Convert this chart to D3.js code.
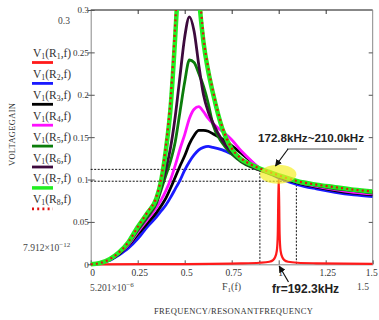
<!DOCTYPE html>
<html>
<head>
<meta charset="utf-8">
<script src="https://cdn.jsdelivr.net/npm/d3@7"></script>
<style>
  html, body { margin: 0; padding: 0; background: #fff; }
  svg { display: block; }
</style>
</head>
<body>
<svg id="chart" width="379" height="320"></svg>
<script>
// ---- data ----
const freq = [0, 0.05, 0.1, 0.15, 0.2, 0.25, 0.3, 0.35, 0.375, 0.4, 0.425, 0.45, 0.475, 0.5, 0.525, 0.55, 0.575, 0.6, 0.625, 0.65, 0.7, 0.75, 0.8, 0.85, 0.9, 0.95, 1.0, 1.1, 1.2, 1.3, 1.4, 1.5];
const gainR2 = [0, 0.0012, 0.0045, 0.011, 0.019, 0.03, 0.044, 0.056, 0.063, 0.07, 0.079, 0.089, 0.099, 0.111, 0.121, 0.129, 0.135, 0.138, 0.139, 0.138, 0.135, 0.13, 0.124, 0.118, 0.113, 0.107, 0.102, 0.094, 0.089, 0.085, 0.082, 0.08];
const gainR3 = [0, 0.0013, 0.005, 0.012, 0.022, 0.035, 0.048, 0.061, 0.069, 0.078, 0.09, 0.103, 0.116, 0.128, 0.142, 0.152, 0.158, 0.158, 0.157, 0.154, 0.148, 0.14, 0.131, 0.122, 0.113, 0.108, 0.103, 0.096, 0.091, 0.087, 0.084, 0.082];
const gainR4 = [0, 0.0014, 0.0055, 0.013, 0.023, 0.038, 0.052, 0.067, 0.076, 0.087, 0.1, 0.117, 0.136, 0.153, 0.172, 0.183, 0.186, 0.18, 0.172, 0.166, 0.157, 0.147, 0.134, 0.123, 0.113, 0.108, 0.104, 0.097, 0.092, 0.088, 0.085, 0.083];
const gainR5 = [0, 0.0015, 0.0058, 0.0135, 0.024, 0.04, 0.055, 0.072, 0.088, 0.105, 0.122, 0.145, 0.18, 0.215, 0.241, 0.238, 0.225, 0.21, 0.19, 0.165, 0.143, 0.13, 0.121, 0.115, 0.111, 0.107, 0.104, 0.097, 0.093, 0.089, 0.087, 0.084];
const gainR6 = [0, 0.0015, 0.006, 0.014, 0.025, 0.042, 0.057, 0.074, 0.092, 0.112, 0.138, 0.175, 0.222, 0.268, 0.292, 0.275, 0.235, 0.2, 0.18, 0.167, 0.146, 0.132, 0.122, 0.116, 0.111, 0.108, 0.104, 0.098, 0.093, 0.09, 0.087, 0.085];
const gainR7 = [0, 0.0015, 0.006, 0.014, 0.026, 0.044, 0.06, 0.078, 0.099, 0.135, 0.185, 0.27, 0.37, 0.45, 0.48, 0.44, 0.32, 0.262, 0.228, 0.202, 0.16, 0.136, 0.124, 0.118, 0.113, 0.109, 0.105, 0.098, 0.094, 0.091, 0.088, 0.086];
const gainR8 = [0, 0.0015, 0.006, 0.014, 0.026, 0.044, 0.061, 0.08, 0.102, 0.14, 0.195, 0.285, 0.39, 0.47, 0.5, 0.46, 0.34, 0.268, 0.232, 0.205, 0.162, 0.137, 0.125, 0.118, 0.113, 0.109, 0.105, 0.098, 0.094, 0.091, 0.088, 0.086];
const freqR1 = [0, 0.5, 0.8, 0.9, 0.95, 0.97, 0.98, 0.99, 0.995, 1.0, 1.005, 1.01, 1.02, 1.03, 1.05, 1.1, 1.2, 1.5];
const gainR1 = [0, 0.0003, 0.001, 0.0018, 0.003, 0.005, 0.008, 0.016, 0.035, 0.105, 0.035, 0.016, 0.008, 0.005, 0.003, 0.0018, 0.0012, 0.0006];

const legendNames = ["1", "2", "3", "4", "5", "6", "7", "8"];
const xTicks = [0, 0.25, 0.5, 0.75, 1, 1.25, 1.5];
const xTickLabels = ["0", "0.25", "0.5", "0.75", "1", "1.25", "1.5"];
const yTicks = [0, 0.05, 0.1, 0.15, 0.2, 0.25, 0.3];
const yTickLabels = ["0", "0.05", "0.1", "0.15", "0.2", "0.25", "0.3"];
const bandFreq = [0.9, 1.094];      // 172.8 kHz and 210.0 kHz relative to fr
const bandGain = [0.112, 0.098];
const resonance = { f: 1.0, g: 0.105 };

// ---- styles ----
const styles = [
  { color: "#ff1a1a", width: 2.2, dash: null },
  { color: "#1a1aff", width: 2.8, dash: null },
  { color: "#000000", width: 2.8, dash: null },
  { color: "#ff10ff", width: 2.8, dash: null },
  { color: "#0b7d0b", width: 2.8, dash: null },
  { color: "#3d0a3d", width: 2.8, dash: null },
  { color: "#22ee22", width: 4.5, dash: null },
  { color: "#e01010", width: 2.2, dash: "2,3.2" }
];

const svg = d3.select("#chart");
const x = d3.scaleLinear().domain([0, 1.5]).range([90.7, 372.7]);
const y = d3.scaleLinear().domain([0, 0.3]).range([264.3, 10]);

const serif = "'Liberation Serif', 'Times New Roman', serif";
const sans = "'Liberation Sans', Arial, sans-serif";

const defs = svg.append("defs");
defs.append("clipPath").attr("id", "plotclip")
  .append("rect").attr("x", x(0)).attr("y", y(0.3))
  .attr("width", x(1.5) - x(0)).attr("height", y(0) - y(0.3) + 3);
defs.append("marker").attr("id", "arrow").attr("viewBox", "0 0 10 10")
  .attr("refX", 9).attr("refY", 5).attr("markerWidth", 7).attr("markerHeight", 7)
  .attr("markerUnits", "userSpaceOnUse").attr("orient", "auto")
  .append("path").attr("d", "M0,0 L10,5 L0,10 z").attr("fill", "#111");

// frame
svg.append("line").attr("x1", x(0)).attr("x2", x(1.5)).attr("y1", y(0.3)).attr("y2", y(0.3))
  .attr("stroke", "#111").attr("stroke-width", 1);
svg.append("line").attr("x1", x(1.5)).attr("x2", x(1.5)).attr("y1", y(0.3)).attr("y2", y(0))
  .attr("stroke", "#888").attr("stroke-width", 1);

// axes
const axL = svg.append("g").attr("transform", `translate(${x(0)},0)`)
  .call(d3.axisLeft(y).tickValues(yTicks).tickSizeInner(-4).tickSizeOuter(0).tickPadding(2)
    .tickFormat((d, i) => yTickLabels[i]));
axL.select(".domain").attr("stroke", "#888");
axL.selectAll(".tick line").attr("stroke", "#555").attr("x1", -3);
axL.selectAll(".tick text").attr("font-family", serif).attr("font-size", 9).attr("fill", "#333");

const axB = svg.append("g").attr("transform", `translate(0,${y(0)})`)
  .call(d3.axisBottom(x).tickValues(xTicks).tickSizeInner(-4).tickSizeOuter(0).tickPadding(5)
    .tickFormat((d, i) => xTickLabels[i]));
axB.select(".domain").attr("stroke", "#888");
axB.selectAll(".tick line").attr("stroke", "#555");
axB.selectAll(".tick text").attr("font-family", serif).attr("font-size", 9.5).attr("fill", "#333")
  .attr("dx", (d, i) => i === xTicks.length - 1 ? -1.5 : 1.5);

const axT = svg.append("g").attr("transform", `translate(0,${y(0.3)})`)
  .call(d3.axisTop(x).tickValues(xTicks.slice(1, -1)).tickSizeInner(-4).tickSizeOuter(0).tickFormat(""));
axT.select(".domain").remove();
axT.selectAll(".tick line").attr("stroke", "#333");

const axR = svg.append("g").attr("transform", `translate(${x(1.5)},0)`)
  .call(d3.axisRight(y).tickValues(yTicks.slice(1, -1)).tickSizeInner(-4).tickSizeOuter(0).tickFormat(""));
axR.select(".domain").remove();
axR.selectAll(".tick line").attr("stroke", "#555");

// dotted guide lines
const guide = svg.append("g").attr("stroke", "#111").attr("stroke-width", 1).attr("stroke-dasharray", "2,1.5");
guide.append("line").attr("x1", x(0)).attr("x2", x(bandFreq[0])).attr("y1", y(bandGain[0])).attr("y2", y(bandGain[0]));
guide.append("line").attr("x1", x(0)).attr("x2", x(bandFreq[1])).attr("y1", y(bandGain[1])).attr("y2", y(bandGain[1]));
guide.append("line").attr("x1", x(bandFreq[0])).attr("x2", x(bandFreq[0])).attr("y1", y(bandGain[0])).attr("y2", y(0));
guide.append("line").attr("x1", x(bandFreq[1])).attr("x2", x(bandFreq[1])).attr("y1", y(bandGain[1])).attr("y2", y(0));

// curves
const series = [
  { f: freqR1, g: gainR1 },
  { f: freq, g: gainR2 },
  { f: freq, g: gainR3 },
  { f: freq, g: gainR4 },
  { f: freq, g: gainR5 },
  { f: freq, g: gainR6 },
  { f: freq, g: gainR7 },
  { f: freq, g: gainR8 }
];
const line = d3.line().x(d => x(d[0])).y(d => y(d[1])).curve(d3.curveMonotoneX);
const plot = svg.append("g").attr("clip-path", "url(#plotclip)");
series.forEach((s, i) => {
  const pts = s.f.map((f, j) => [f, s.g[j]]);
  plot.append("path").attr("d", line(pts)).attr("fill", "none")
    .attr("stroke", styles[i].color).attr("stroke-width", styles[i].width)
    .attr("stroke-dasharray", styles[i].dash).attr("stroke-linejoin", "round");
});

// highlight ellipse
svg.append("ellipse").attr("cx", x((bandFreq[0] + bandFreq[1]) / 2)).attr("cy", y(resonance.g) - 1)
  .attr("rx", (x(bandFreq[1]) - x(bandFreq[0])) / 2).attr("ry", 9.5)
  .attr("fill", "rgb(245,240,40)").attr("fill-opacity", 0.7);

// annotations
svg.append("text").attr("x", 258).attr("y", 142).attr("font-family", sans).attr("font-weight", "bold")
  .attr("font-size", 11.6).attr("fill", "#222").text("172.8kHz~210.0kHz");
svg.append("line").attr("x1", 287).attr("x2", 357).attr("y1", 149).attr("y2", 149)
  .attr("stroke", "#222").attr("stroke-width", 0.8);
svg.append("line").attr("x1", 288).attr("y1", 149).attr("x2", 275.5).attr("y2", 166)
  .attr("stroke", "#111").attr("stroke-width", 1.2).attr("marker-end", "url(#arrow)");

svg.append("text").attr("x", 272).attr("y", 293).attr("font-family", sans).attr("font-weight", "bold")
  .attr("font-size", 12).attr("fill", "#222").text("fr=192.3kHz");
svg.append("line").attr("x1", 288.5).attr("y1", 282).attr("x2", x(resonance.f) + 0.5).attr("y2", 266)
  .attr("stroke", "#111").attr("stroke-width", 1.2).attr("marker-end", "url(#arrow)");

// legend
const leg = svg.append("g");
legendNames.forEach((n, i) => {
  const ty = 57 + i * 20.9;
  const t = leg.append("text").attr("x", 33).attr("y", ty).attr("font-family", serif)
    .attr("font-size", 11.5).attr("fill", "#333");
  t.append("tspan").text("V");
  t.append("tspan").attr("font-size", 7.8).attr("dy", 2).text("1");
  t.append("tspan").attr("dy", -2).text("(R");
  t.append("tspan").attr("font-size", 7.8).attr("dy", 2).text(n);
  t.append("tspan").attr("dy", -2).text(",f)");
  leg.append("line").attr("x1", 32).attr("x2", 53).attr("y1", ty + 5.5).attr("y2", ty + 5.5)
    .attr("stroke", styles[i].color).attr("stroke-width", i === 6 ? 3.5 : 2.8)
    .attr("stroke-dasharray", styles[i].dash);
});

// mathcad limit labels
svg.append("text").attr("x", 58).attr("y", 24).attr("font-family", serif).attr("font-size", 9.5)
  .attr("fill", "#444").text("0.3");
const lim1 = svg.append("text").attr("x", 23).attr("y", 251).attr("font-family", serif)
  .attr("font-size", 9.5).attr("fill", "#444");
lim1.append("tspan").text("7.912×10");
lim1.append("tspan").attr("font-size", 7).attr("dy", -4).text("−12");
const lim2 = svg.append("text").attr("x", 90).attr("y", 291).attr("font-family", serif)
  .attr("font-size", 9.5).attr("fill", "#444");
lim2.append("tspan").text("5.201×10");
lim2.append("tspan").attr("font-size", 7).attr("dy", -4).text("−6");
svg.append("text").attr("x", 357).attr("y", 290).attr("font-family", serif).attr("font-size", 9.5)
  .attr("fill", "#444").text("1.5");
const fl = svg.append("text").attr("x", 222).attr("y", 290).attr("font-family", serif)
  .attr("font-size", 10).attr("fill", "#444");
fl.append("tspan").text("F");
fl.append("tspan").attr("font-size", 7).attr("dy", 2).text("1");
fl.append("tspan").attr("dy", -2).text("(f)");

// axis titles
svg.append("text").attr("x", 154).attr("y", 314).attr("font-family", serif).attr("font-size", 8.5)
  .attr("fill", "#333").attr("textLength", 159).attr("lengthAdjust", "spacing")
  .text("FREQUENCY/RESONANTFREQUENCY");
svg.append("text").attr("transform", "translate(15,166) rotate(-90)").attr("font-family", serif)
  .attr("font-size", 8.5).attr("fill", "#333").attr("textLength", 63).attr("lengthAdjust", "spacing")
  .text("VOLTAGEGAIN");
</script>
</body>
</html>
